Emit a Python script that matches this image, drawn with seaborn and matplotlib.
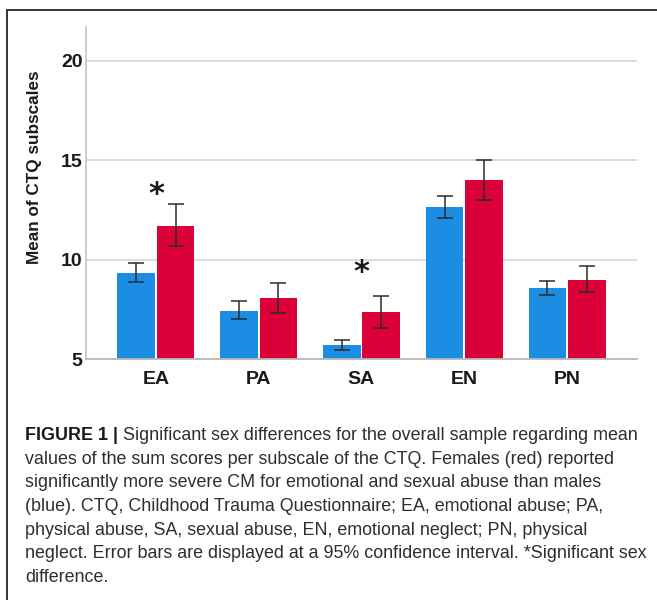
import numpy as np
import pandas as pd
import matplotlib
matplotlib.use("Agg")
import matplotlib.pyplot as plt
import seaborn as sns
from matplotlib import font_manager
from matplotlib.lines import Line2D
from matplotlib.container import BarContainer

# ---------------- data ----------------
subscales = ["EA", "PA", "SA", "EN", "PN"]
sexes = ["Male", "Female"]
male_mean = [9.33, 7.43, 5.70, 12.63, 8.57]
male_lo = [8.88, 7.03, 5.45, 12.10, 8.24]
male_hi = [9.83, 7.90, 5.97, 13.22, 8.94]
female_mean = [11.71, 8.05, 7.38, 14.01, 8.99]
female_lo = [10.67, 7.32, 6.56, 13.02, 8.37]
female_hi = [12.80, 8.84, 8.19, 15.02, 9.70]
sig_categories = ["EA", "SA"]
sig_y = [13.25, 9.35]
y_ticks = [5, 10, 15, 20]
y_label = "Mean of CTQ subscales"
caption_bold = "FIGURE 1 |"
caption_lines = [
    " Significant sex differences for the overall sample regarding mean",
    "values of the sum scores per subscale of the CTQ. Females (red) reported",
    "significantly more severe CM for emotional and sexual abuse than males",
    "(blue). CTQ, Childhood Trauma Questionnaire; EA, emotional abuse; PA,",
    "physical abuse, SA, sexual abuse, EN, emotional neglect; PN, physical",
    "neglect. Error bars are displayed at a 95% confidence interval. *Significant sex",
    "difference.",
]

df = pd.DataFrame({
    "subscale": subscales * 2,
    "sex": ["Male"] * 5 + ["Female"] * 5,
    "mean": male_mean + female_mean,
})

sns.set_theme(style="white")
def has_font(name):
    try:
        font_manager.findfont(name, fallback_to_default=False)
        return True
    except Exception:
        return False

main_font = "Liberation Sans" if has_font("Liberation Sans") else "DejaVu Sans"
cap_font = "Liberation Sans Narrow" if has_font("Liberation Sans Narrow") else main_font
plt.rcParams["font.family"] = [main_font, "DejaVu Sans"]

W, H = 657, 600
fig = plt.figure(figsize=(W / 100, H / 100), dpi=100)
fig.patch.set_facecolor("white")

ax_l, ax_r, ax_t, ax_b = 86, 637, 27, 359
ax = fig.add_axes([ax_l / W, 1 - ax_b / H, (ax_r - ax_l) / W, (ax_b - ax_t) / H])

blue = "#1B8EE4"
red = "#DB0037"
sns.barplot(data=df, x="subscale", y="mean", hue="sex", order=subscales,
            hue_order=sexes, palette=[blue, red], saturation=1, width=0.77,
            gap=0.05, errorbar=None, ax=ax, legend=False, linewidth=0, zorder=2)

los = [male_lo, female_lo]
his = [male_hi, female_hi]
means = [male_mean, female_mean]
bar_containers = [c for c in ax.containers if isinstance(c, BarContainer)]
for k, cont in enumerate(bar_containers):
    xs = [p.get_x() + p.get_width() / 2 for p in cont.patches]
    m = np.array(means[k])
    lo = np.array(los[k])
    hi = np.array(his[k])
    ax.errorbar(xs, m, yerr=[m - lo, hi - m], fmt="none", ecolor="#2b2b2b",
                elinewidth=1.1, capsize=5.5, capthick=1.1, zorder=3)

for cat, yv in zip(sig_categories, sig_y):
    ax.text(subscales.index(cat), yv, "*", ha="center", va="center",
            fontsize=22, fontweight="bold", color="#1a1a1a",
            family="DejaVu Sans")

ax.set_ylim(5, 21.7)
ax.set_xlim(-0.68, 4.68)
ax.set_yticks(y_ticks)
ax.set_yticklabels([str(t) for t in y_ticks], fontsize=14, fontweight="bold",
                   color="#1a1a1a")
ax.set_xticks(range(len(subscales)))
ax.set_xticklabels(subscales, fontsize=14, fontweight="bold", color="#1a1a1a")
ax.tick_params(axis="both", length=0)
ax.tick_params(axis="x", pad=9)
ax.tick_params(axis="y", pad=2.5)
ax.set_xlabel("")
ax.set_ylabel(y_label, fontsize=12.3, fontweight="bold", color="#1a1a1a")
ax.yaxis.label.set_va("center")
ax.yaxis.set_label_coords((35 - ax_l) / (ax_r - ax_l), (ax_b - 167) / (ax_b - ax_t))

ax.grid(axis="y", color="#d9d9d9", linewidth=1.3, zorder=0)
ax.set_axisbelow(True)
for s in ["top", "right"]:
    ax.spines[s].set_visible(False)
ax.spines["left"].set_color("#c8c8c8")
ax.spines["bottom"].set_color("#b8b8b8")
ax.spines["left"].set_linewidth(1.3)
ax.spines["bottom"].set_linewidth(1.3)

# frame lines (top and left)
fig.add_artist(Line2D([7 / W, 1.0], [1 - 10 / H, 1 - 10 / H], color="#333333",
                      linewidth=1.4, transform=fig.transFigure))
fig.add_artist(Line2D([7 / W, 7 / W], [1 - 10 / H, 0.0], color="#333333",
                      linewidth=1.4, transform=fig.transFigure))

# caption
renderer = fig.canvas.get_renderer()
x0 = 25
target_right = 637
baseline0 = 440
spacing = 23.7

def draw_caption(fs):
    arts = []
    tb = fig.text(x0 / W, 1 - baseline0 / H, caption_bold, fontsize=fs,
                  fontweight="bold", family=[main_font, "DejaVu Sans"],
                  color="#1a1a1a", va="baseline", ha="left")
    arts.append(tb)
    bb = tb.get_window_extent(renderer)
    t1 = fig.text(bb.x1 / W, 1 - baseline0 / H, caption_lines[0], fontsize=fs,
                  family=[cap_font, "DejaVu Sans"], color="#2e2e2e",
                  va="baseline", ha="left")
    arts.append(t1)
    for i, line in enumerate(caption_lines[1:], start=1):
        t = fig.text(x0 / W, 1 - (baseline0 + i * spacing) / H, line,
                     fontsize=fs, family=[cap_font, "DejaVu Sans"],
                     color="#2e2e2e", va="baseline", ha="left")
        arts.append(t)
    return arts

fs = 12.0
arts = draw_caption(fs)
right = arts[1].get_window_extent(renderer).x1
for a in arts:
    a.remove()
fs = fs * (target_right - x0) / (right - x0)
arts = draw_caption(fs)

fig.savefig("out.png", dpi=100, facecolor="white")
